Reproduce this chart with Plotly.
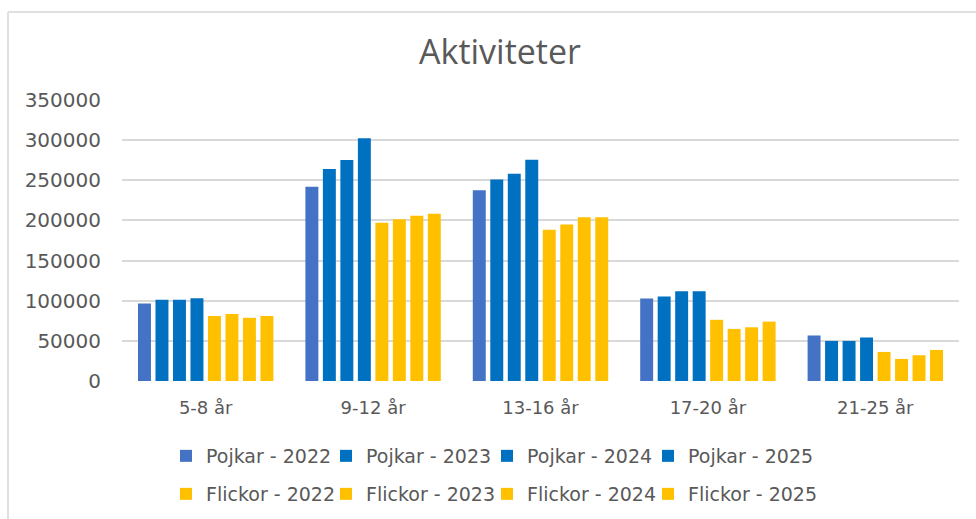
import plotly.graph_objects as go

categories = ["5-8 år", "9-12 år", "13-16 år", "17-20 år", "21-25 år"]
series_names = ["Pojkar - 2022", "Pojkar - 2023", "Pojkar - 2024", "Pojkar - 2025",
                "Flickor - 2022", "Flickor - 2023", "Flickor - 2024", "Flickor - 2025"]
pojkar_2022 = [96600, 241900, 237700, 102700, 56700]
pojkar_2023 = [101100, 264000, 250900, 105200, 49900]
pojkar_2024 = [101100, 275300, 258000, 111900, 49900]
pojkar_2025 = [103200, 302400, 275500, 111900, 54200]
flickor_2022 = [81100, 197000, 188500, 76200, 36200]
flickor_2023 = [83300, 201600, 194800, 64900, 27500]
flickor_2024 = [78700, 205700, 204000, 66900, 32100]
flickor_2025 = [81100, 208200, 204000, 74000, 38700]
series_values = [pojkar_2022, pojkar_2023, pojkar_2024, pojkar_2025,
                 flickor_2022, flickor_2023, flickor_2024, flickor_2025]
colors = ["#4472C4", "#0070C0", "#0070C0", "#0070C0",
          "#FFC000", "#FFC000", "#FFC000", "#FFC000"]
tick_vals = [0, 50000, 100000, 150000, 200000, 250000, 300000, 350000]

TFONT = "Open Sans"
FONT = "DejaVu Sans"
GREY = "#595959"

W, H = 976, 519
ml, mr, mt, mb = 122, 17, 100, 138
pw, ph = W - ml - mr, H - mt - mb


def px_x(p):
    return (p - ml) / pw


def px_y(p):
    return (H - mb - p) / ph


legend_x_px = [166, 326, 487, 648, 166, 326, 487, 648]
legend_y_px = [456, 456, 456, 456, 494, 494, 494, 494]

fig = go.Figure()
legends = {}
for i, (name, vals, col) in enumerate(zip(series_names, series_values, colors)):
    key = "legend" if i == 0 else f"legend{i + 1}"
    fig.add_trace(go.Bar(x=categories, y=vals, name=name, marker_color=col,
                         marker_line_width=0, legend=key, showlegend=True))
    legends[key] = dict(orientation="h", xanchor="left", yanchor="middle",
                        x=px_x(legend_x_px[i]), y=px_y(legend_y_px[i]),
                        font=dict(family=FONT, size=19, color=GREY),
                        bgcolor="rgba(0,0,0,0)", itemwidth=30, visible=True)

fig.update_layout(
    width=W, height=H,
    showlegend=True,
    margin=dict(l=ml, r=mr, t=mt, b=mb, autoexpand=False),
    paper_bgcolor="white", plot_bgcolor="white",
    barmode="group", bargap=0.164, bargroupgap=0.26,
    title=dict(text="Aktiviteter", x=px_x(500), xanchor="center", xref="paper",
               y=1 - 52 / H, yanchor="middle",
               font=dict(family=TFONT, size=34, color=GREY)),
    font=dict(family=FONT, size=18, color=GREY),
    xaxis=dict(showgrid=False, showline=False, ticks="",
               tickfont=dict(family=FONT, size=18, color=GREY), ticklabelstandoff=14),
    yaxis=dict(range=[0, 350000], tickvals=tick_vals, ticktext=[str(v) for v in tick_vals],
               showgrid=True, gridcolor="#D9D9D9", gridwidth=1.5, zeroline=False,
               tickfont=dict(family=FONT, size=20, color=GREY), ticklabelstandoff=20),
    shapes=[
        dict(type="line", xref="paper", yref="paper", x0=px_x(8), x1=px_x(8),
             y0=px_y(519), y1=px_y(12), line=dict(color="#E0E0E0", width=2)),
        dict(type="line", xref="paper", yref="paper", x0=px_x(8), x1=px_x(976),
             y0=px_y(12), y1=px_y(12), line=dict(color="#E0E0E0", width=2)),
    ],
    **legends,
)

fig.write_html("out.html", config={"displayModeBar": False},
               post_script="document.body.style.margin='0';")
